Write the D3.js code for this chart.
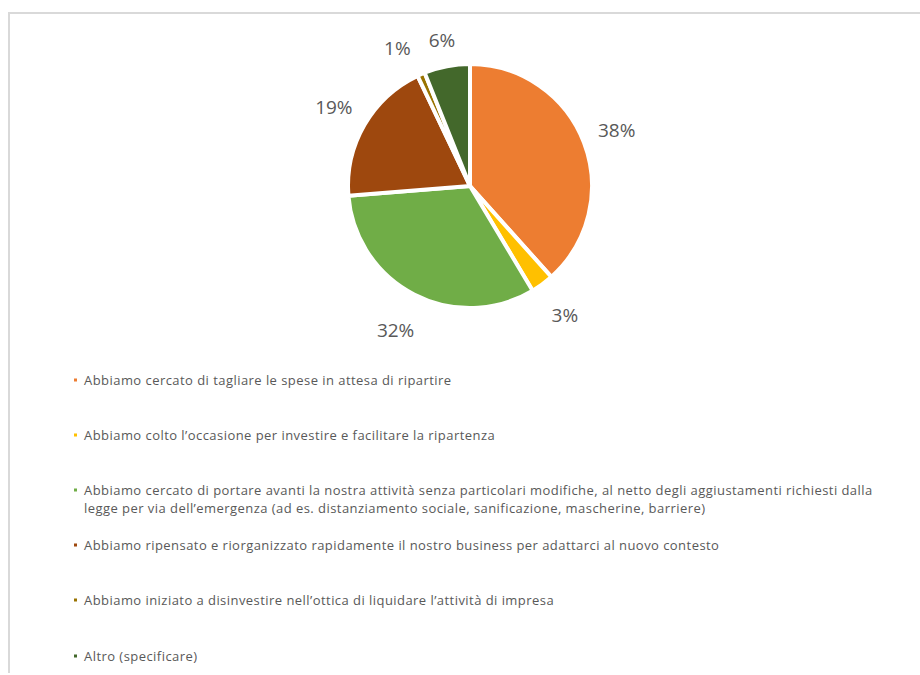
<!DOCTYPE html>
<html>
<head>
<meta charset="utf-8">
<script src="https://cdn.jsdelivr.net/npm/d3@7"></script>
<style>
  html, body { margin: 0; padding: 0; background: #fff; }
  svg { display: block; }
</style>
</head>
<body>
<svg id="chart" width="920" height="675"></svg>
<script>
// Response categories (legend order = slice order, clockwise from 12 o'clock)
const categories = [
  "Abbiamo cercato di tagliare le spese in attesa di ripartire",
  "Abbiamo colto l\u2019occasione per investire e facilitare la ripartenza",
  "Abbiamo cercato di portare avanti la nostra attività senza particolari modifiche, al netto degli aggiustamenti richiesti dalla\nlegge per via dell\u2019emergenza (ad es. distanziamento sociale, sanificazione, mascherine, barriere)",
  "Abbiamo ripensato e riorganizzato rapidamente il nostro business per adattarci al nuovo contesto",
  "Abbiamo iniziato a disinvestire nell\u2019ottica di liquidare l\u2019attività di impresa",
  "Altro (specificare)"
];
// Share of respondents, percent
const values = [38, 3, 32, 19, 1, 6];
const colors = ["#ED7D31", "#FFC000", "#70AD47", "#9E480E", "#997300", "#43682B"];

const svg = d3.select("#chart");
const textColor = "#595959";
const fontFamily = "'Open Sans', 'Noto Sans', sans-serif";

// Chart frame
svg.append("path")
  .attr("d", "M9,673 L9,13 L920,13")
  .attr("fill", "none")
  .attr("stroke", "#d9d9d9")
  .attr("stroke-width", 2);

// Pie
const cx = 470, cy = 186, r = 122;
const pie = d3.pie().sort(null).value(d => d.value);
const arcs = pie(values.map((v, i) => ({ value: v, color: colors[i] })));
const arc = d3.arc().innerRadius(0).outerRadius(r);

const g = svg.append("g").attr("transform", `translate(${cx},${cy})`);
g.selectAll("path.slice")
  .data(arcs)
  .join("path")
  .attr("class", "slice")
  .attr("d", arc)
  .attr("fill", d => d.data.color)
  .attr("stroke", "#fff")
  .attr("stroke-width", 4)
  .attr("stroke-linejoin", "round");

// Data labels placed just outside each slice ("outside end")
const labelSize = 19;
const labels = g.selectAll("text.lbl")
  .data(arcs)
  .join("text")
  .attr("class", "lbl")
  .attr("font-family", fontFamily)
  .attr("font-size", labelSize)
  .attr("fill", textColor)
  .attr("text-anchor", "middle")
  .attr("dominant-baseline", "central")
  .text(d => d3.format("d")(d.data.value) + "%")
  .each(function(d) {
    const a = (d.startAngle + d.endAngle) / 2;
    const dx = Math.sin(a), dy = -Math.cos(a);
    const w = this.getComputedTextLength() / 2;
    const h = dy > 0 ? 20 : 10;
    const dist = r + 14 + Math.abs(dx) * w + Math.abs(dy) * h;
    d.lx = dx * dist; d.ly = dy * dist; d.hw = w;
  });

// Keep neighbouring labels in the crowded top area apart
const minGap = 18;
for (let i = arcs.length - 1; i > 0; i--) {
  const a = arcs[i], b = arcs[i - 1];
  if (Math.abs(a.ly - b.ly) < labelSize && b.lx < a.lx) {
    const need = a.hw + b.hw + minGap - (a.lx - b.lx);
    if (need > 0) b.lx -= need;
  }
}
labels.attr("x", d => d.lx).attr("y", d => d.ly);

// Legend
const legendY = [380, 435, 490, 545, 600, 656];
const legend = svg.append("g");
categories.forEach((c, i) => {
  const row = legend.append("g").attr("transform", `translate(84,${legendY[i]})`);
  row.append("rect")
    .attr("x", -10).attr("y", -1.5)
    .attr("width", 3).attr("height", 3)
    .attr("fill", colors[i]);
  const t = row.append("text")
    .attr("font-family", fontFamily)
    .attr("font-size", 13)
    .attr("letter-spacing", 0.45)
    .attr("fill", textColor);
  c.split("\n").forEach((line, j) => {
    t.append("tspan")
      .attr("x", 0)
      .attr("y", j * 18)
      .attr("dy", "0.35em")
      .text(line);
  });
});
</script>
</body>
</html>
